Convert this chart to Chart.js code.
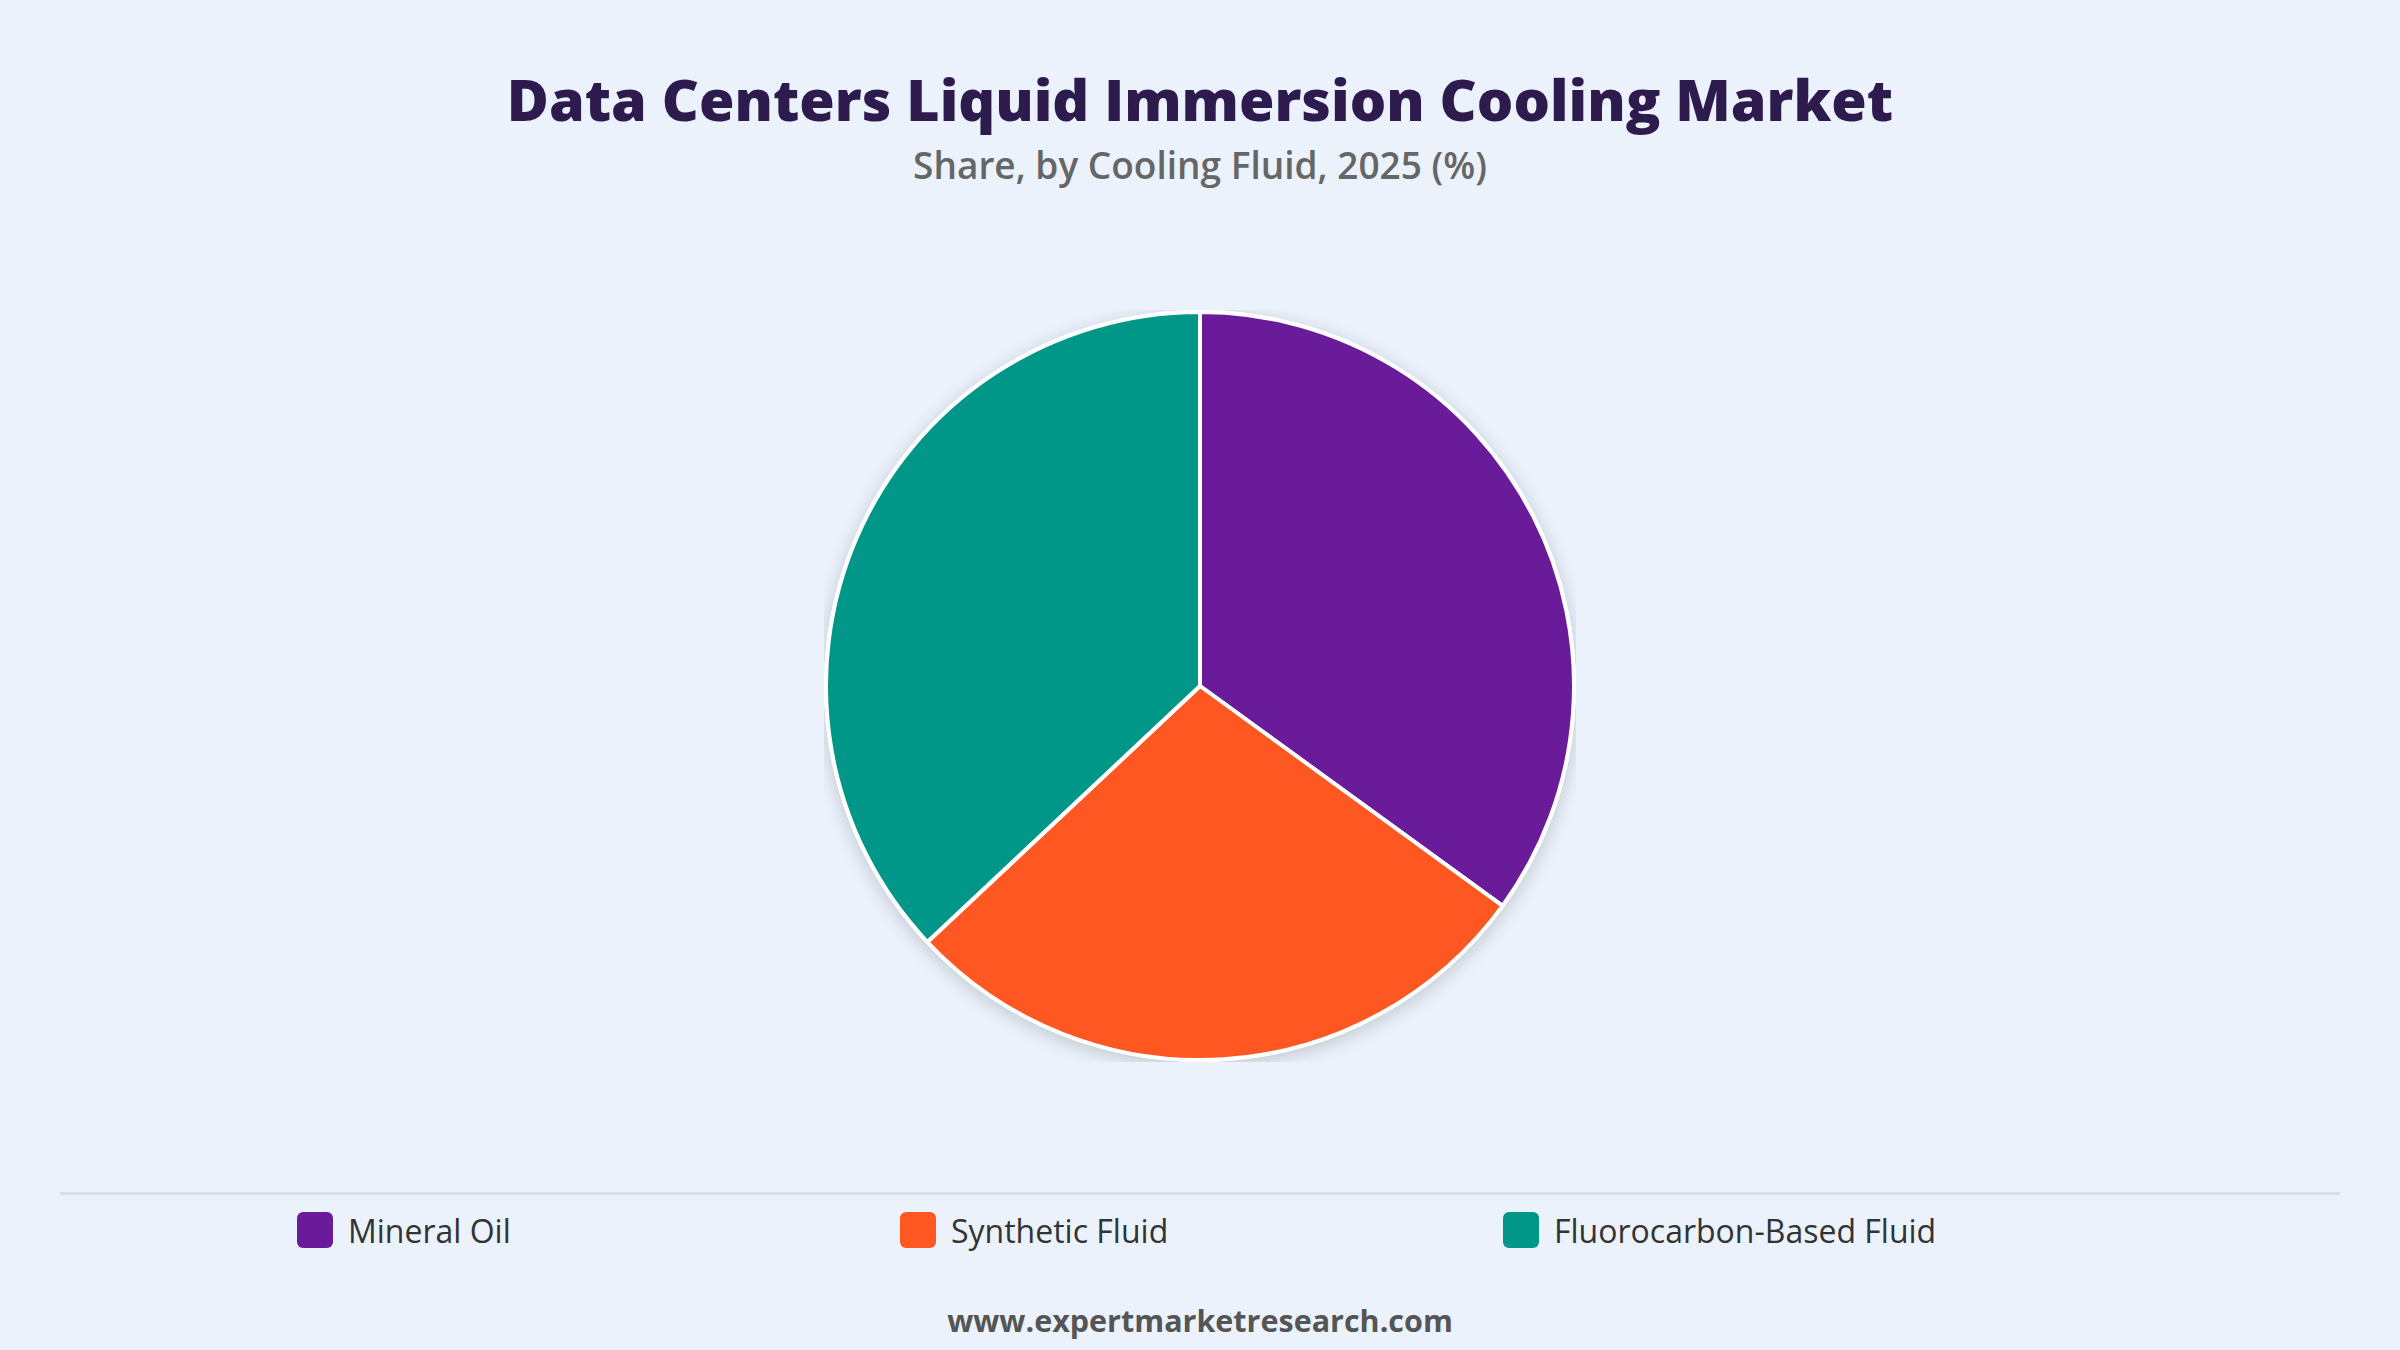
<!DOCTYPE html>
<html>
<head>
<meta charset="utf-8">
<script src="https://cdn.jsdelivr.net/npm/chart.js@4.4.1/dist/chart.umd.min.js"></script>
<style>
  html, body { margin: 0; padding: 0; }
  body {
    width: 2400px; height: 1350px; position: relative; overflow: hidden;
    background: #EBF2FB;
    font-family: "Open Sans", "Noto Sans", sans-serif;
  }
  #title {
    position: absolute; top: 59px; left: 0; width: 2400px; text-align: center;
    font-size: 57.4px; font-weight: 800; color: #2D1B4E; line-height: 80px;
  }
  #subtitle {
    position: absolute; top: 141px; left: 0; width: 2400px; text-align: center;
    font-size: 37px; font-weight: 600; color: #666; line-height: 48px;
  }
  #pieWrap { position: absolute; left: 824px; top: 310px; width: 752px; height: 752px; }
  #rule { position: absolute; left: 60px; top: 1192px; width: 2280px; height: 3px; background: #DCDFE3; }
  #legend { position: absolute; left: 297px; top: 1212px; display: flex; }
  .item { width: 603px; display: flex; align-items: center; height: 36px; }
  .box { width: 36px; height: 36px; border-radius: 6px; margin-right: 15px; flex: none; }
  .lbl { font-size: 32px; color: #333; }
  #footer {
    position: absolute; top: 1298px; left: 0; width: 2400px; text-align: center;
    font-size: 30.5px; font-weight: 700; color: #555; line-height: 44px;
  }
</style>
</head>
<body>
<div id="title">Data Centers Liquid Immersion Cooling Market</div>
<div id="subtitle">Share, by Cooling Fluid, 2025 (%)</div>
<div id="pieWrap"><canvas id="pieChart"></canvas></div>
<div id="rule"></div>
<div id="legend"></div>
<div id="footer">www.expertmarketresearch.com</div>
<script>
const fluids = ['Mineral Oil', 'Synthetic Fluid', 'Fluorocarbon-Based Fluid'];
const shares = [35, 28, 37];
const fluidColors = ['#6A1B9A', '#FF5722', '#009688'];

document.addEventListener('DOMContentLoaded', function () {
    const legendEl = document.getElementById('legend');
    fluids.forEach(function (name, i) {
        const item = document.createElement('div');
        item.className = 'item';
        item.innerHTML = '<span class="box" style="background:' + fluidColors[i] + '"></span><span class="lbl">' + name + '</span>';
        legendEl.appendChild(item);
    });

    // soft shadow behind the pie
    const pieShadow = {
        id: 'pieShadow',
        beforeDatasetsDraw(chart) {
            const arc = chart.getDatasetMeta(0).data[0];
            if (!arc) return;
            const ctx = chart.ctx;
            ctx.save();
            ctx.shadowColor = 'rgba(0, 0, 0, 0.18)';
            ctx.shadowBlur = 18;
            ctx.shadowOffsetY = 4;
            ctx.fillStyle = '#ffffff';
            ctx.beginPath();
            ctx.arc(arc.x, arc.y, arc.outerRadius + 2, 0, Math.PI * 2);
            ctx.fill();
            ctx.restore();
        }
    };

    new Chart(document.getElementById('pieChart'), {
        type: 'pie',
        data: {
            labels: fluids,
            datasets: [{
                data: shares,
                backgroundColor: fluidColors,
                borderColor: '#ffffff',
                borderWidth: 4
            }]
        },
        options: {
            responsive: true,
            maintainAspectRatio: false,
            animation: false,
            plugins: {
                legend: { display: false },
                tooltip: { enabled: false }
            }
        },
        plugins: [pieShadow]
    });
});
</script>
</body>
</html>
